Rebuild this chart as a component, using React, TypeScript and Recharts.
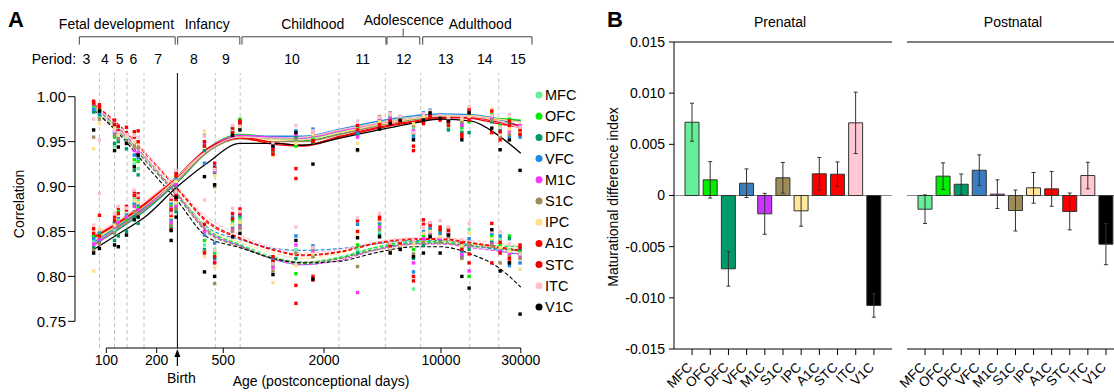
import React from 'react';
import {
  ComposedChart, Scatter, Line, XAxis, YAxis, ReferenceLine, ReferenceDot,
  BarChart, Bar, Cell, ErrorBar, CartesianGrid,
} from 'recharts';

const regionNames = ['MFC', 'OFC', 'DFC', 'VFC', 'M1C', 'S1C', 'IPC', 'A1C', 'STC', 'ITC', 'V1C'];
const regionColors = ['#66EE99', '#00EE00', '#009966', '#1E88E5', '#FF33FF', '#A08C5B', '#FFE08A', '#FF0000', '#F00000', '#FFC0CB', '#000000'];
const barColors = ['#66EE99', '#00EE00', '#00996A', '#3A7EC2', '#CC33FF', '#9E8C58', '#FFE699', '#FF0000', '#FF0000', '#FFC8D2', '#000000'];

// sample ages (postconceptional days) of the point columns
const sampleAges = [84, 91, 112, 118, 132, 147, 155, 244, 261, 386, 444, 568, 629, 991, 1359, 1718, 3172, 4294, 4974, 5706, 6851, 7858, 8614, 9887, 11085, 13330, 14730, 20130, 22580, 25650, 29700];

// upper cluster of correlations
const mfcHigh = [.985, .978, .945, .952, .950, .925, .920, .880, .905, .950, .920, .966, .970, .944, .950, .955, .965, .972, .977, .975, .965, .978, .980, .976, .965, .962, .985, .975, .965, .972, .962];
const ofcHigh = [.990, .985, .955, .958, .955, .930, .928, .878, .910, .945, .918, .962, .975, .938, .945, .952, .962, .975, .978, .976, .960, .980, .982, .978, .970, .966, .972, .980, .968, .975, .960];
const dfcHigh = [.983, .980, .948, .950, .942, .918, .913, .872, .900, .940, .915, .960, .972, .940, .955, .949, .958, .970, .975, .974, .958, .976, .979, .977, .963, .960, .960, .972, .962, .970, .965];
const vfcHigh = [.986, .982, .960, .955, .953, .935, .932, .882, .908, .926, .922, .964, .969, .946, .962, .964, .960, .976, .979, .977, .955, .982, .985, .980, .974, .970, .983, .978, .960, .956, .955];
const m1cHigh = [.992, .990, .962, .960, .957, .940, .938, .876, .902, .948, .917, .961, .968, .942, .958, .960, .955, .973, .976, .975, .962, .979, .981, .978, .972, .968, .975, .976, .957, .962, .968];
const s1cHigh = [.955, .975, .957, .953, .950, .945, .943, .870, .895, .957, .900, .958, .966, .937, .952, .957, .940, .978, .982, .978, .968, .975, .980, .977, .975, .972, .980, .974, .955, .958, .959];
const ipcHigh = [.942, .970, .965, .957, .955, .950, .948, .884, .906, .962, .912, .963, .967, .934, .948, .958, .948, .972, .980, .977, .970, .978, .983, .979, .978, .975, .978, .986, .958, .964, .962];
const a1cHigh = [.995, .991, .974, .962, .966, .955, .962, .886, .912, .945, .926, .960, .971, .941, .920, .951, .963, .966, .972, .973, .945, .972, .978, .975, .968, .958, .986, .984, .952, .968, .958];
const stcHigh = [.993, .988, .969, .967, .960, .961, .950, .874, .915, .950, .921, .965, .973, .936, .909, .950, .968, .969, .973, .972, .940, .970, .979, .974, .972, .955, .974, .960, .961, .973, .963];
const itcHigh = [.975, .952, .962, .960, .958, .957, .955, .888, .918, .956, .919, .968, .965, .948, .968, .962, .973, .977, .981, .978, .960, .981, .984, .979, .976, .977, .989, .979, .966, .980, .966];
const v1cHigh = [.963, .984, .940, .944, .948, .922, .935, .851, .888, .911, .902, .957, .963, .945, .960, .925, .941, .964, .970, .974, .952, .974, .982, .976, .973, .952, .982, .965, .941, .952, .918];

// lower cluster of correlations
const mfcLow = [.838, .845, .852, .862, .868, .886, .884, .862, .880, .835, .830, .858, .862, .818, .830, .826, .830, .850, .831, .834, .786, .840, .848, .845, .847, .826, .852, .840, .842, .830, .828];
const ofcLow = [.845, .848, .858, .872, .864, .880, .878, .858, .876, .840, .826, .862, .866, .812, .803, .830, .835, .858, .833, .836, .830, .845, .852, .850, .852, .832, .800, .845, .835, .845, .826];
const dfcLow = [.832, .838, .840, .845, .850, .866, .859, .855, .872, .830, .820, .854, .858, .815, .820, .824, .826, .846, .830, .833, .820, .835, .846, .840, .845, .822, .830, .838, .830, .842, .830];
const vfcLow = [.842, .850, .860, .866, .870, .882, .880, .864, .884, .846, .837, .866, .868, .820, .845, .834, .858, .860, .835, .838, .805, .850, .854, .848, .849, .828, .842, .848, .845, .812, .815];
const m1cLow = [.836, .841, .855, .860, .866, .878, .874, .860, .878, .850, .816, .852, .855, .810, .835, .828, .782, .855, .829, .832, .815, .842, .849, .842, .848, .824, .806, .836, .828, .825, .822];
const s1cLow = [.829, .836, .848, .856, .860, .872, .870, .857, .875, .828, .792, .850, .853, .806, .826, .822, .811, .852, .828, .831, .825, .838, .845, .838, .844, .820, .835, .834, .815, .822, .820];
const ipcLow = [.806, .852, .857, .868, .872, .884, .882, .866, .882, .822, .810, .857, .860, .793, .812, .825, .845, .862, .832, .835, .835, .848, .850, .844, .850, .834, .848, .842, .832, .828, .808];
const a1cLow = [.848, .868, .866, .876, .878, .890, .888, .868, .886, .826, .815, .870, .875, .822, .790, .800, .850, .864, .834, .837, .800, .858, .857, .855, .854, .838, .825, .859, .838, .820, .835];
const stcLow = [.853, .845, .862, .870, .874, .894, .892, .852, .890, .858, .822, .864, .870, .817, .770, .796, .862, .866, .836, .839, .795, .863, .859, .852, .851, .830, .815, .815, .826, .816, .832];
const itcLow = [.857, .892, .870, .878, .876, .896, .890, .870, .894, .885, .829, .876, .872, .814, .855, .832, .865, .870, .837, .840, .840, .855, .860, .862, .855, .841, .859, .850, .850, .836, .825];
const v1cLow = [.826, .831, .835, .833, .846, .863, .866, .840, .866, .805, .800, .844, .848, .802, .840, .797, .843, .844, .826, .830, .822, .826, .844, .826, .846, .800, .787, .852, .806, .815, .758];

// fitted trend curves
const curveAges = [84, 120, 170, 266, 400, 630, 1000, 1500, 2500, 4000, 7000, 10000, 15000, 22000, 30000];
const mfcSolid = [.842, .860, .880, .910, .941, .957, .954, .953, .961, .969, .976, .977, .977, .974, .973];
const ofcSolid = [.840, .858, .878, .909, .942, .958, .955, .954, .962, .970, .977, .979, .979, .976, .974];
const dfcSolid = [.835, .853, .873, .905, .938, .955, .953, .951, .959, .967, .975, .977, .977, .975, .973];
const vfcSolid = [.838, .857, .877, .909, .940, .957, .956, .956, .964, .972, .979, .981, .980, .975, .967];
const m1cSolid = [.834, .855, .876, .910, .942, .957, .955, .954, .962, .969, .976, .979, .978, .972, .967];
const s1cSolid = [.836, .855, .875, .906, .938, .953, .950, .950, .958, .967, .975, .978, .978, .975, .972];
const ipcSolid = [.840, .859, .879, .909, .940, .955, .952, .952, .960, .968, .976, .979, .979, .975, .972];
const a1cSolid = [.843, .860, .880, .911, .941, .954, .947, .945, .955, .964, .972, .976, .977, .972, .968];
const stcSolid = [.844, .861, .881, .912, .942, .955, .949, .946, .956, .965, .973, .977, .976, .970, .966];
const itcSolid = [.846, .863, .883, .912, .940, .955, .954, .955, .963, .970, .977, .979, .978, .973, .965];
const v1cSolid = [.830, .848, .866, .900, .926, .948, .948, .946, .954, .962, .971, .975, .973, .957, .937];

const mfcDashed = [.988, .963, .932, .892, .852, .836, .822, .816, .822, .832, .838, .838, .833, .830, .828];
const ofcDashed = [.989, .964, .933, .893, .853, .835, .820, .815, .821, .832, .839, .839, .836, .834, .833];
const dfcDashed = [.986, .961, .930, .889, .850, .834, .819, .813, .820, .830, .837, .837, .834, .831, .829];
const vfcDashed = [.987, .962, .932, .892, .855, .841, .831, .829, .831, .836, .840, .840, .835, .829, .824];
const m1cDashed = [.990, .964, .933, .891, .851, .834, .819, .813, .818, .829, .836, .836, .832, .828, .825];
const s1cDashed = [.985, .960, .929, .890, .849, .833, .820, .816, .820, .829, .836, .837, .834, .831, .828];
const ipcDashed = [.987, .962, .932, .893, .854, .838, .826, .820, .826, .836, .841, .840, .836, .832, .830];
const a1cDashed = [.991, .967, .937, .897, .860, .842, .829, .823, .827, .836, .841, .841, .837, .832, .828];
const stcDashed = [.992, .968, .938, .898, .862, .843, .830, .824, .828, .837, .842, .842, .838, .833, .829];
const itcDashed = [.990, .967, .938, .899, .866, .846, .832, .826, .830, .838, .843, .843, .840, .837, .834];
const v1cDashed = [.985, .958, .925, .884, .844, .832, .820, .815, .817, .826, .833, .833, .825, .810, .788];

// panel B
const prenatalValues = [0.00716, 0.00153, -0.00716, 0.0012, -0.00179, 0.00173, -0.0015, 0.00212, 0.00208, 0.0071, -0.01075];
const prenatalErrors = [0.00186, 0.00178, 0.0017, 0.0014, 0.002, 0.0015, 0.0015, 0.0016, 0.0012, 0.003, 0.00114];
const postnatalValues = [-0.00134, 0.00189, 0.0011, 0.00247, 0.00013, -0.00147, 0.00075, 0.00065, -0.00156, 0.00195, -0.00476];
const postnatalErrors = [0.0014, 0.0013, 0.001, 0.0015, 0.0014, 0.002, 0.0015, 0.0017, 0.0018, 0.0013, 0.002];

const xTicksA = [100, 200, 500, 2000, 10000, 30000];
const yTicksA = [0.75, 0.8, 0.85, 0.9, 0.95, 1.0];
const yTicksB = [-0.015, -0.01, -0.005, 0, 0.005, 0.01, 0.015];

// developmental periods
const periodBounds = [91, 112, 133, 168, 448, 631, 2456, 4646, 7566, 14866, 22166];
const birthAge = 266;
const periodNames = ['3', '4', '5', '6', '7', '8', '9', '10', '11', '12', '13', '14', '15'];
const periodMid = [76, 98, 120, 145, 204, 334, 519, 1289, 3405, 5997, 10690, 18260, 28880];
const stageNames = ['Fetal development', 'Infancy', 'Childhood', 'Adolescence', 'Adulthood'];
const stageStart = [69, 267, 647, 4758, 7780];
const stageEnd = [258, 628, 4690, 7468, 35000];
const stageMid = [115, 401, 1712, 5995, 17150];

const highSets = [mfcHigh, ofcHigh, dfcHigh, vfcHigh, m1cHigh, s1cHigh, ipcHigh, a1cHigh, stcHigh, itcHigh, v1cHigh];
const lowSets = [mfcLow, ofcLow, dfcLow, vfcLow, m1cLow, s1cLow, ipcLow, a1cLow, stcLow, itcLow, v1cLow];
const solidSets = [mfcSolid, ofcSolid, dfcSolid, vfcSolid, m1cSolid, s1cSolid, ipcSolid, a1cSolid, stcSolid, itcSolid, v1cSolid];
const dashedSets = [mfcDashed, ofcDashed, dfcDashed, vfcDashed, m1cDashed, s1cDashed, ipcDashed, a1cDashed, stcDashed, itcDashed, v1cDashed];

const regions = regionNames.map((name, i) => ({
  name,
  color: regionColors[i],
  points: sampleAges.flatMap((age, j) => [{ age, r: highSets[i][j] }, { age, r: lowSets[i][j] }]),
  solid: curveAges.map((age, j) => ({ age, r: solidSets[i][j] })),
  dashed: curveAges.map((age, j) => ({ age, r: dashedSets[i][j] })),
}));

const prenatalRows = regionNames.map((region, i) => ({ region, value: prenatalValues[i], err: prenatalErrors[i] }));
const postnatalRows = regionNames.map((region, i) => ({ region, value: postnatalValues[i], err: postnatalErrors[i] }));

const FONT = '"Liberation Sans", Arial, Helvetica, sans-serif';
const yDomainA: [number, number] = [0.7203, 1.0264];
const xDomainA: [number, number] = [65, 35000];
const bracketY = 1.0667;
const bracketFoot = 1.058;
const periodY = 1.042;
const stageY = 1.0814;

const squareShape = (color: string) => (p: any) => (
  <rect x={p.cx - 1.7} y={p.cy - 1.7} width={3.4} height={3.4} fill={color} />
);

const birthLabel = (props: any) => {
  const vb = props.viewBox || {};
  const x = vb.x;
  const yb = vb.y + vb.height;
  return (
    <g>
      <line x1={x} y1={yb + 4} x2={x} y2={yb + 18} stroke="#000" strokeWidth={1.2} />
      <polygon points={`${x - 3},${yb + 9} ${x},${yb + 1} ${x + 3},${yb + 9}`} fill="#000" />
      <text x={x + 4} y={yb + 35} textAnchor="middle" fontSize={14} fill="#000">Birth</text>
    </g>
  );
};

const RotTick = (props: any) => {
  const { x, y, payload } = props;
  const ax = x + 1;
  const ay = y + 11;
  return (
    <text x={ax} y={ay} textAnchor="end" fontSize={13.5} fill="#000" transform={`rotate(-45, ${ax}, ${ay})`}>
      {payload.value}
    </text>
  );
};

const fmtB = (v: number) => (v === 0 ? '0' : v.toFixed(3));

const MaturationPanel = ({ rows, showAxis }: { rows: any[]; showAxis: boolean }) => (
  <BarChart
    width={showAxis ? 300 : 260}
    height={392}
    data={rows}
    margin={showAxis ? { top: 42, right: 8, bottom: 0, left: 14 } : { top: 42, right: 16, bottom: 0, left: 27 }}
    barSize={14}
  >
    <CartesianGrid vertical={false} horizontalValues={[0]} stroke="#8a8a8a" />
    <XAxis
      dataKey="region"
      interval={0}
      padding={{ left: 9, right: 9 }}
      height={43}
      tickSize={6}
      axisLine={{ stroke: '#000' }}
      tickLine={{ stroke: '#000' }}
      tick={<RotTick />}
    />
    {showAxis ? (
      <YAxis
        type="number"
        domain={[-0.015, 0.015]}
        ticks={yTicksB}
        tickFormatter={fmtB}
        width={60}
        tickSize={5}
        tickMargin={4}
        axisLine={{ stroke: '#000' }}
        tickLine={{ stroke: '#000' }}
        tick={{ fill: '#000', fontSize: 14 }}
        allowDataOverflow
      />
    ) : (
      <YAxis type="number" domain={[-0.015, 0.015]} hide allowDataOverflow />
    )}
    <ReferenceLine y={0.015} stroke="#000" />
    <Bar dataKey="value" stroke="#333" strokeWidth={1} isAnimationActive={false}>
      {rows.map((_, i) => (
        <Cell key={i} fill={barColors[i]} />
      ))}
      <ErrorBar dataKey="err" width={2} stroke="#333" strokeWidth={1} direction="y" />
    </Bar>
  </BarChart>
);

export default function App() {
  return (
    <div style={{ position: 'absolute', left: 0, top: 0, width: 1114, height: 392, overflow: 'hidden', background: '#fff', fontFamily: FONT }}>
      <div style={{ position: 'absolute', left: 0, top: 0 }}>
        <ComposedChart width={600} height={392} margin={{ top: 73, right: 68, bottom: 14, left: 30 }}>
          <XAxis
            type="number"
            dataKey="age"
            scale="log"
            domain={xDomainA}
            allowDataOverflow
            ticks={xTicksA}
            axisLine={false}
            tickSize={5}
            tickLine={{ stroke: '#000' }}
            tick={{ fill: '#000', fontSize: 14 }}
            height={30}
          />
          <YAxis
            type="number"
            dataKey="r"
            domain={yDomainA}
            allowDataOverflow
            ticks={yTicksA}
            tickFormatter={(v: number) => v.toFixed(2)}
            axisLine={false}
            tickSize={7}
            tickLine={{ stroke: '#000' }}
            tick={{ fill: '#000', fontSize: 15 }}
            width={45}
          />
          {periodBounds.map((b) => (
            <ReferenceLine key={`pb${b}`} x={b} stroke="#C4C4C4" strokeDasharray="4 3" />
          ))}
          <ReferenceLine x={birthAge} stroke="#000" label={birthLabel} />
          <ReferenceLine segment={[{ x: xDomainA[0], y: 0.75 }, { x: xDomainA[0], y: 1.0 }]} stroke="#000" ifOverflow="visible" />
          <ReferenceLine segment={[{ x: 100, y: yDomainA[0] }, { x: 30000, y: yDomainA[0] }]} stroke="#000" ifOverflow="visible" />
          {stageNames.map((s, i) => (
            <React.Fragment key={s}>
              <ReferenceLine segment={[{ x: stageStart[i], y: bracketY }, { x: stageEnd[i], y: bracketY }]} stroke="#444" ifOverflow="visible" />
              <ReferenceLine segment={[{ x: stageStart[i], y: bracketY }, { x: stageStart[i], y: bracketFoot }]} stroke="#444" ifOverflow="visible" />
              <ReferenceLine segment={[{ x: stageEnd[i], y: bracketY }, { x: stageEnd[i], y: bracketFoot }]} stroke="#444" ifOverflow="visible" />
              <ReferenceDot
                x={stageMid[i]}
                y={s === 'Adolescence' ? stageY + 0.0045 : stageY}
                r={0}
                fill="none"
                stroke="none"
                ifOverflow="visible"
                label={{ value: s, position: 'center', fill: '#000', fontSize: 14 }}
              />
            </React.Fragment>
          ))}
          <ReferenceLine segment={[{ x: 5944, y: bracketY }, { x: 5944, y: 1.0758 }]} stroke="#444" ifOverflow="visible" />
          <ReferenceDot x={48.6} y={periodY} r={0} fill="none" stroke="none" ifOverflow="visible"
            label={{ value: 'Period:', position: 'center', fill: '#000', fontSize: 14 }} />
          {periodNames.map((p, i) => (
            <ReferenceDot key={`pn${p}`} x={periodMid[i]} y={periodY} r={0} fill="none" stroke="none" ifOverflow="visible"
              label={{ value: p, position: 'center', fill: '#000', fontSize: 14 }} />
          ))}
          {regions.map((g) => (
            <Scatter key={`s${g.name}`} name={g.name} data={g.points} dataKey="r" fill={g.color}
              shape={squareShape(g.color)} isAnimationActive={false} />
          ))}
          {regions.map((g) => (
            <Line key={`d${g.name}`} data={g.dashed} dataKey="r" type="monotone" stroke={g.color}
              strokeWidth={1.1} strokeDasharray="4 2" dot={false} isAnimationActive={false} />
          ))}
          {regions.map((g) => (
            <Line key={`l${g.name}`} data={g.solid} dataKey="r" type="monotone" stroke={g.color}
              strokeWidth={1.3} dot={false} isAnimationActive={false} />
          ))}
        </ComposedChart>
      </div>

      <div style={{ position: 'absolute', left: 600, top: 0 }}>
        <MaturationPanel rows={prenatalRows} showAxis />
      </div>
      <div style={{ position: 'absolute', left: 880, top: 0 }}>
        <MaturationPanel rows={postnatalRows} showAxis={false} />
      </div>

      <svg width={1114} height={392} style={{ position: 'absolute', left: 0, top: 0, pointerEvents: 'none' }}>
        <text x={8} y={27} fontSize={22} fontWeight="bold" fill="#000">A</text>
        <text x={607} y={27} fontSize={22} fontWeight="bold" fill="#000">B</text>
        <text transform="translate(24,204) rotate(-90)" textAnchor="middle" fontSize={14} fill="#000">Correlation</text>
        <text x={321} y={386} textAnchor="middle" fontSize={14} fill="#000">Age (postconceptional days)</text>
        <text transform="translate(618,197) rotate(-90)" textAnchor="middle" fontSize={14} fill="#000">Maturational difference index</text>
        <text x={780} y={27} textAnchor="middle" fontSize={14} fill="#000">Prenatal</text>
        <text x={1013} y={27} textAnchor="middle" fontSize={14} fill="#000">Postnatal</text>
        {regionNames.map((n, i) => (
          <g key={n}>
            <circle cx={539} cy={95 + i * 21.2} r={3.5} fill={regionColors[i]} />
            <text x={545} y={100 + i * 21.2} fontSize={14.5} fill="#000">{n}</text>
          </g>
        ))}
      </svg>
    </div>
  );
}
